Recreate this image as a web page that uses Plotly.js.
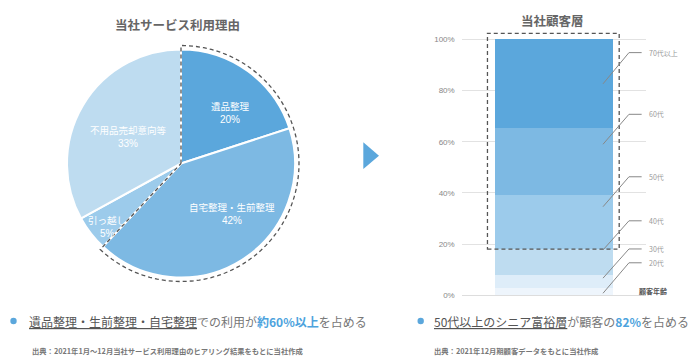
<!DOCTYPE html>
<html><head><meta charset="utf-8">
<script src="https://cdn.plot.ly/plotly-3.0.1.min.js"></script>
<style>html,body{margin:0;padding:0;background:#fff}#chart{width:699px;height:361px}</style>
</head><body><div id="chart"></div>
<script>
// ---- data ----
const pieLabels = ['遺品整理', '自宅整理・生前整理', '引っ越し', '不用品売却意向等'];
const pieValues = [20, 42, 5, 33];
const pieColors = ['#5ba7dc', '#7db9e3', '#9ccbeb', '#bedcf0'];

const ageGroups = ['20代', '30代', '40代', '50代', '60代', '70代以上'];
const ageShares = [3, 5, 10, 21, 26.5, 34.5];
const ageColors = ['#eef5fc', '#deedf9', '#bedcf0', '#9ccbeb', '#7db9e3', '#5ba7dc'];

const yTickVals = [0, 20, 40, 60, 80, 100];
const yTickText = ['0%', '20%', '40%', '60%', '80%', '100%'];

// leader line anchors (layout, in % units)
const leaderStart = [0.8, 6.7, 17.7, 34.6, 59, 82.6];
const leaderElbow = [12.7, 18.1, 29.1, 46.3, 70.7, 94.8];

// pie text label offsets from the pie centre (layout, px)
const pieTextOffset = [[49, -50.5], [51, 50], [-74, 62.5], [-53, -27]];

// ---- geometry helpers ----
const W = 699, H = 361;
const X = px => px / W;
const Y = py => 1 - py / H;
const FONT = '"Noto Sans CJK JP", "Noto Sans", sans-serif';

// pie geometry
const pcx = 181, pcy = 163.5, pr = 114;
const pieDomain = {x: [X(pcx - pr), X(pcx + pr)], y: [Y(pcy + pr), Y(pcy - pr)]};

// bar axis geometry
const plotL = 461.7, plotR = 645.7, y0px = 295.3, pxPerPct = 2.56;
const yMax = 104;
const yTopPx = y0px - yMax * pxPerPct;
const pctToPaper = v => Y(y0px - v * pxPerPct);

const total = pieValues.reduce((a, b) => a + b, 0);

// pie trace
const pieTrace = {
  type: 'pie', labels: pieLabels, values: pieValues, sort: false,
  direction: 'clockwise', rotation: 0, domain: pieDomain,
  marker: {colors: pieColors, line: {color: '#ffffff', width: 2}},
  textinfo: 'none', textposition: 'none',
  hoverinfo: 'skip', showlegend: false
};

// bar traces
const barTraces = ageGroups.map((g, i) => ({
  type: 'bar', x: [0], y: [ageShares[i]], name: g, width: 0.64,
  marker: {color: ageColors[i], line: {width: 0}},
  xaxis: 'x', yaxis: 'y', hoverinfo: 'skip', showlegend: false
}));

// shapes
const shapes = [];
// pie dashed outline around first two slices
const frac = (pieValues[0] + pieValues[1]) / total;
const R2 = 118;
let pts = [];
const N = 120;
for (let k = 0; k <= N; k++) {
  const a = 2 * Math.PI * frac * k / N;
  pts.push([pcx + R2 * Math.sin(a), pcy - R2 * Math.cos(a)]);
}
let path = `M ${X(pcx)},${Y(pcy)} ` + pts.map(p => `L ${X(p[0])},${Y(p[1])}`).join(' ') + ` L ${X(pcx)},${Y(pcy)}`;
shapes.push({type: 'path', xref: 'paper', yref: 'paper', path: path,
  line: {color: '#555555', width: 1.3, dash: '4px,3px'}, layer: 'above'});

// arrow triangle
shapes.push({type: 'path', xref: 'paper', yref: 'paper',
  path: `M ${X(363.3)},${Y(142.3)} L ${X(379)},${Y(155.7)} L ${X(363.3)},${Y(169)} Z`,
  fillcolor: '#5ba7dc', line: {width: 0}});

// bar dashed box around 50代以上
const base50 = ageShares.slice(0, 3).reduce((a, b) => a + b, 0);
shapes.push({type: 'rect', xref: 'x', yref: 'y', x0: -0.36, x1: 0.356, y0: base50, y1: 102.3,
  line: {color: '#555555', width: 1.3, dash: '4px,3px'}, layer: 'above'});

// leader lines
ageGroups.forEach((g, i) => {
  shapes.push({type: 'path', xref: 'x', yref: 'y',
    path: `M 0.268,${leaderStart[i]} L 0.409,${leaderElbow[i]} L 0.478,${leaderElbow[i]}`,
    line: {color: '#888888', width: 1}, layer: 'above'});
});

// bullets
[[13.5, 321], [420.7, 321]].forEach(p => {
  shapes.push({type: 'circle', xref: 'paper', yref: 'paper',
    x0: X(p[0] - 3.2), x1: X(p[0] + 3.2), y0: Y(p[1] + 3.2), y1: Y(p[1] - 3.2),
    fillcolor: '#5ba7dc', line: {width: 0}});
});

// annotations
const annotations = [];
annotations.push({xref: 'paper', yref: 'paper', x: X(177), y: Y(24), text: '<b>当社サービス利用理由</b>',
  showarrow: false, font: {size: 12.5, color: '#666666', family: FONT}, xanchor: 'center', yanchor: 'middle'});
annotations.push({xref: 'paper', yref: 'paper', x: X(552), y: Y(20.5), text: '<b>当社顧客層</b>',
  showarrow: false, font: {size: 12.5, color: '#666666', family: FONT}, xanchor: 'center', yanchor: 'middle'});

// pie slice labels (name line + percent line)
pieLabels.forEach((lab, i) => {
  const cxp = pcx + pieTextOffset[i][0], cyp = pcy + pieTextOffset[i][1];
  annotations.push({xref: 'paper', yref: 'paper', x: X(cxp), y: Y(cyp - 6.5), text: lab, showarrow: false,
    xanchor: 'center', yanchor: 'middle', font: {size: 9.5, color: '#ffffff', family: FONT}});
  annotations.push({xref: 'paper', yref: 'paper', x: X(cxp), y: Y(cyp + 7), text: pieValues[i] + '%', showarrow: false,
    xanchor: 'center', yanchor: 'middle', font: {size: 10, color: '#ffffff', family: 'Liberation Sans, Arial, sans-serif'}});
});

ageGroups.forEach((g, i) => {
  annotations.push({xref: 'paper', yref: 'paper', x: X(647), y: pctToPaper(leaderElbow[i]), text: g, showarrow: false,
    xanchor: 'left', yanchor: 'middle', font: {size: 7, color: '#999999', family: FONT}});
});
annotations.push({xref: 'paper', yref: 'paper', x: X(637), y: Y(291), text: '<b>顧客年齢</b>', showarrow: false,
  xanchor: 'left', yanchor: 'middle', font: {size: 7, color: '#555555', family: FONT}});

annotations.push({xref: 'paper', yref: 'paper', x: X(26.7), y: Y(321), xanchor: 'left', yanchor: 'middle', showarrow: false,
  text: '<span style="color:#555555"><u>遺品整理・生前整理・自宅整理</u></span>での利用が<b><span style="color:#4da3dd">約60%以上</span></b>を占める',
  font: {size: 12, color: '#777777', family: FONT}});
annotations.push({xref: 'paper', yref: 'paper', x: X(432.3), y: Y(321), xanchor: 'left', yanchor: 'middle', showarrow: false,
  text: '<span style="color:#555555"><u>50代以上のシニア富裕層</u></span>が顧客の<b><span style="color:#4da3dd">82%</span></b>を占める',
  font: {size: 12, color: '#777777', family: FONT}});
annotations.push({xref: 'paper', yref: 'paper', x: X(30), y: Y(350.7), xanchor: 'left', yanchor: 'middle', showarrow: false,
  text: '<b>出典：2021年1月～12月当社サービス利用理由のヒアリング結果をもとに当社作成</b>',
  font: {size: 7.3, color: '#777777', family: FONT}});
annotations.push({xref: 'paper', yref: 'paper', x: X(432.3), y: Y(350.7), xanchor: 'left', yanchor: 'middle', showarrow: false,
  text: '<b>出典：2021年12月期顧客データをもとに当社作成</b>',
  font: {size: 7.3, color: '#777777', family: FONT}});

const layout = {
  width: W, height: H, margin: {l: 0, r: 0, t: 0, b: 0, pad: 0},
  paper_bgcolor: '#ffffff', plot_bgcolor: 'rgba(0,0,0,0)',
  font: {family: FONT},
  barmode: 'stack', bargap: 0,
  xaxis: {domain: [X(plotL), X(plotR)], range: [-0.5, 0.5], visible: false, fixedrange: true},
  yaxis: {domain: [Y(y0px), Y(yTopPx)], range: [0, yMax], tickvals: yTickVals, ticktext: yTickText,
    showgrid: true, gridcolor: '#e2e2e2', gridwidth: 1, zeroline: true, zerolinecolor: '#dddddd', zerolinewidth: 1,
    showline: false, ticks: '', ticklabelstandoff: 6,
    tickfont: {size: 8, color: '#888888', family: 'Liberation Sans, Arial, sans-serif'}, fixedrange: true},
  shapes: shapes, annotations: annotations, showlegend: false
};

Plotly.newPlot('chart', [pieTrace].concat(barTraces), layout, {displayModeBar: false, staticPlot: true});
</script></body></html>
